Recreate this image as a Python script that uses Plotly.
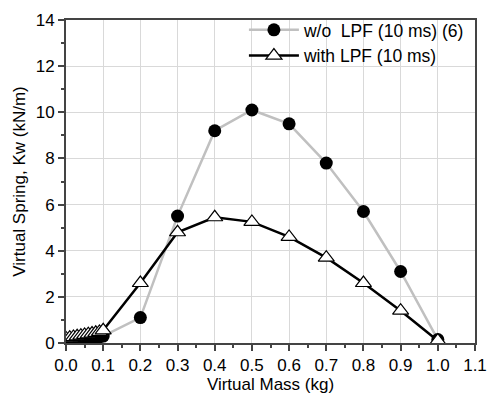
import plotly.graph_objects as go

# Data
x_wo = [0.0, 0.01, 0.02, 0.03, 0.04, 0.05, 0.06, 0.07, 0.08, 0.09, 0.1,
        0.2, 0.3, 0.4, 0.5, 0.6, 0.7, 0.8, 0.9, 1.0]
y_wo = [0.05, 0.06, 0.08, 0.1, 0.12, 0.14, 0.17, 0.2, 0.23, 0.26, 0.3,
        1.1, 5.5, 9.2, 10.1, 9.5, 7.8, 5.7, 3.1, 0.15]

x_with = [0.0, 0.01, 0.02, 0.03, 0.04, 0.05, 0.06, 0.07, 0.08, 0.09, 0.1,
          0.2, 0.3, 0.4, 0.5, 0.6, 0.7, 0.8, 0.9, 1.0]
y_with = [0.2, 0.23, 0.26, 0.29, 0.32, 0.35, 0.38, 0.41, 0.44, 0.48, 0.55,
          2.6, 4.8, 5.45, 5.25, 4.6, 3.7, 2.6, 1.4, 0.1]

x_ticks = [round(i * 0.1, 1) for i in range(12)]
y_ticks = list(range(0, 15, 2))

fig = go.Figure()
fig.add_trace(go.Scatter(
    x=x_wo, y=y_wo, mode="lines+markers", name="w/o  LPF (10 ms) (6)",
    line=dict(color="#c0c0c0", width=2.5),
    marker=dict(symbol="circle", size=13, color="black"),
))
fig.add_trace(go.Scatter(
    x=x_with, y=y_with, mode="lines+markers", name="with LPF (10 ms)",
    line=dict(color="black", width=2.5),
    marker=dict(symbol="triangle-up", size=14, color="white",
                line=dict(color="black", width=1.2)),
))

axis_common = dict(
    showline=True, linecolor="#444", linewidth=2, mirror=True,
    ticks="outside", ticklen=6, tickwidth=1.5, tickcolor="#444",
    showgrid=True, gridcolor="#d9d9d9", gridwidth=1,
    zeroline=False, automargin=False,
    tickfont=dict(family="Liberation Sans, Arial", size=17, color="black"),
    minor=dict(ticks="outside", ticklen=3, tickcolor="#444", showgrid=False),
)

fig.update_layout(
    width=487, height=398,
    margin=dict(l=66, r=12, t=16, b=55),
    plot_bgcolor="white", paper_bgcolor="white",
    font=dict(family="Liberation Sans, Arial", size=17, color="black"),
    showlegend=True,
    legend=dict(x=0.435, y=1.025, xanchor="left", yanchor="top",
                bgcolor="rgba(0,0,0,0)", borderwidth=0,
                font=dict(size=17.5), itemwidth=50, tracegroupgap=0),
    xaxis=dict(range=[0, 1.1], tickvals=x_ticks,
               ticktext=[f"{v:.1f}" for v in x_ticks],
               title=dict(text="Virtual Mass (kg)", standoff=4,
                          font=dict(size=17)),
               **axis_common),
    yaxis=dict(range=[0, 14], tickvals=y_ticks,
               title=dict(text="Virtual Spring, Kw (kN/m)", standoff=6,
                          font=dict(size=17)),
               **axis_common),
)
fig.update_xaxes(minor=dict(dtick=0.05))
fig.update_yaxes(minor=dict(dtick=1))

fig.write_html("out.html")
